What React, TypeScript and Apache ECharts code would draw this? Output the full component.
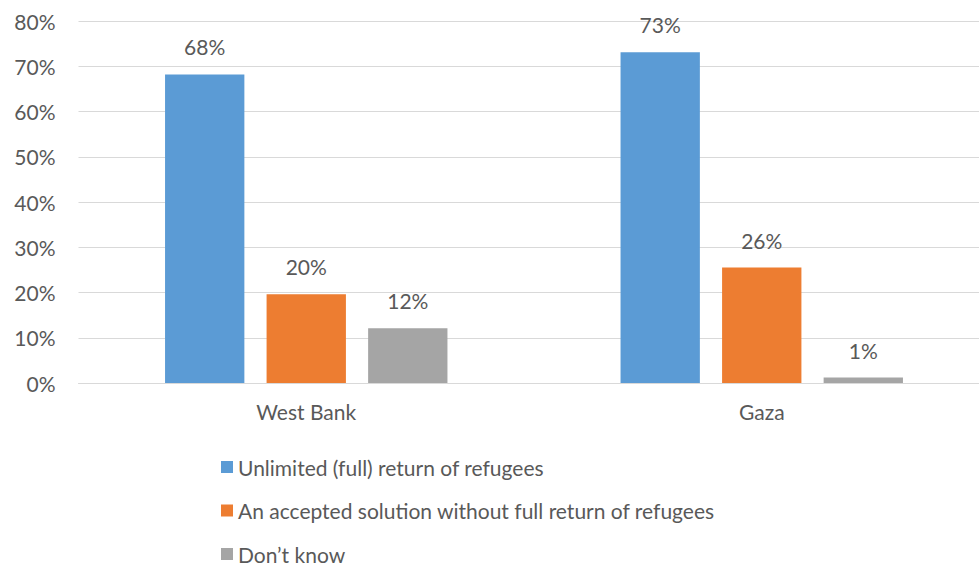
import React, { useEffect, useRef } from "react";
import * as echarts from "echarts";

const categories = ["West Bank", "Gaza"];
const seriesNames = [
  "Unlimited (full) return of refugees",
  "An accepted solution without full return of refugees",
  "Don’t know",
];
const unlimitedReturn = [68.2, 73.1];
const acceptedSolution = [19.6, 25.5];
const dontKnow = [12.1, 1.2];
const colors = ["#5b9bd5", "#ed7d31", "#a5a5a5"];
const yTicks = [0, 10, 20, 30, 40, 50, 60, 70, 80];

const FONT = "Lato";
const TEXT = "#595959";

export default function App() {
  const ref = useRef<HTMLDivElement>(null);
  useEffect(() => {
    if (!ref.current) return;
    const chart = echarts.init(ref.current, undefined, { renderer: "svg" });
    const values = [unlimitedReturn, acceptedSolution, dontKnow];
    chart.setOption({
      animation: false,
      textStyle: { fontFamily: FONT },
      grid: {
        left: 78.5,
        width: 911,
        top: 21,
        bottom: 186,
        containLabel: false,
        outerBoundsMode: "none",
      },
      legend: {
        orient: "vertical",
        left: 216,
        top: 451,
        height: 200,
        itemWidth: 12,
        itemHeight: 12,
        itemGap: 21.5,
        icon: "rect",
        textStyle: { fontFamily: FONT, fontSize: 21, color: TEXT, lineHeight: 22 },
        data: seriesNames,
      },
      xAxis: {
        type: "category",
        data: categories,
        axisTick: { show: false },
        axisLine: { lineStyle: { color: "#d9d9d9", width: 1 } },
        axisLabel: { color: TEXT, fontSize: 21, fontFamily: FONT, margin: 18 },
      },
      yAxis: {
        type: "value",
        min: yTicks[0],
        max: yTicks[yTicks.length - 1],
        interval: 10,
        axisLine: { show: false },
        axisTick: { show: false },
        splitLine: { lineStyle: { color: "#d9d9d9", width: 1 } },
        axisLabel: {
          color: TEXT,
          fontSize: 21,
          fontFamily: FONT,
          margin: 23,
          formatter: (v: number) => `${v}%`,
        },
      },
      series: seriesNames.map((name, i) => ({
        name,
        type: "bar",
        data: values[i],
        barGap: "28%",
        barCategoryGap: "38%",
        itemStyle: { color: colors[i] },
        label: {
          show: true,
          position: "top",
          distance: 17,
          color: TEXT,
          fontSize: 21,
          fontFamily: FONT,
          formatter: (p: any) => `${Math.round(p.value)}%`,
        },
      })),
    });
    return () => chart.dispose();
  }, []);
  return <div ref={ref} style={{ width: 979, height: 569, position: "absolute", left: 0, top: 0 }} />;
}
